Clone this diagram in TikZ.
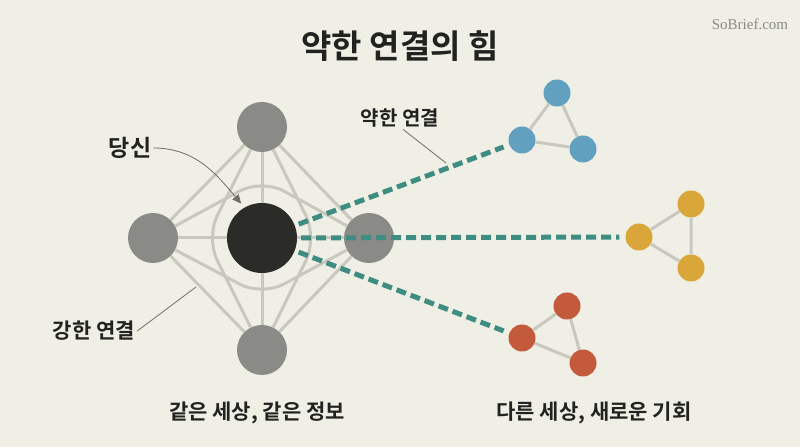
\documentclass[tikz,border=0pt]{standalone}
\usepackage{fontspec}
\setmainfont{Noto Sans CJK KR}[BoldFont={Noto Sans CJK KR Bold}]
\newfontfamily\webfont{Liberation Serif}
\usepackage{xcolor}
\usetikzlibrary{arrows.meta}
\definecolor{achtergrond}{HTML}{EFEFE5}
\definecolor{inkt}{HTML}{222220}
\definecolor{grijs}{HTML}{8A8A86}
\definecolor{zwart}{HTML}{2B2B28}
\definecolor{lijngrijs}{HTML}{C8C8BF}
\definecolor{groenblauw}{HTML}{3E8C82}
\definecolor{blauw}{HTML}{62A0C0}
\definecolor{geel}{HTML}{DAA63A}
\definecolor{rood}{HTML}{C45A3C}
\definecolor{wijsgrijs}{HTML}{6E6E6A}

\begin{document}
\begin{tikzpicture}[>=Stealth, x=1pt, y=1pt,
  knoop/.style={circle, inner sep=0pt, minimum size=50pt, fill=grijs},
  klein/.style={circle, inner sep=0pt, minimum size=27pt},
  sterk/.style={draw=lijngrijs, line width=3pt},
  boog/.style={sterk, rounded corners=25pt},
  zwak/.style={draw=groenblauw, line width=5pt, dash pattern=on 10pt off 5pt,
    shorten <=4pt, shorten >=6pt},
  wijzer/.style={draw=wijsgrijs, line width=0.8pt},
  tekst/.style={font=\bfseries\fontsize{20}{24}\selectfont, text=inkt, inner sep=2pt},
  groot/.style={tekst, font=\bfseries\fontsize{21}{25}\selectfont}]

  % achtergrond
  \fill[achtergrond] (0,0) rectangle (800,447);
  \useasboundingbox (0,0) rectangle (800,447);

  % netwerk rond jou
  \node[knoop, fill=zwart, minimum size=70pt] (jij) at (262,209) {};
  \node[knoop] (boven) at (262,320) {};
  \node[knoop] (links) at (153,209) {};
  \node[knoop] (rechts) at (369,209) {};
  \node[knoop] (onder) at (262,97) {};

  % sterke banden
  \draw[sterk] (boven) -- (links) -- (onder) -- (rechts) -- (boven);
  \draw[sterk] (jij) -- (boven) (jij) -- (links) (jij) -- (onder) (jij) -- (rechts);
  \draw[boog] (links) -- (262,268) -- (rechts);
  \draw[boog] (links) -- (262,151) -- (rechts);
  \draw[boog] (boven) -- (206,209) -- (onder);
  \draw[boog] (boven) -- (317,209) -- (onder);

  % andere groepen
  \node[klein, fill=blauw] (b1) at (557,354) {};
  \node[klein, fill=blauw] (b2) at (522,307) {};
  \node[klein, fill=blauw] (b3) at (583,298) {};
  \draw[sterk] (b1) -- (b2) -- (b3) -- (b1);

  \node[klein, fill=geel] (g1) at (639,210) {};
  \node[klein, fill=geel] (g2) at (691,243) {};
  \node[klein, fill=geel] (g3) at (691,179) {};
  \draw[sterk] (g1) -- (g2) -- (g3) -- (g1);

  \node[klein, fill=rood] (r1) at (567,141) {};
  \node[klein, fill=rood] (r2) at (522,109) {};
  \node[klein, fill=rood] (r3) at (583,84) {};
  \draw[sterk] (r1) -- (r2) -- (r3) -- (r1);

  % zwakke banden
  \draw[zwak] (jij) -- (b2);
  \draw[zwak] (jij) -- (g1);
  \draw[zwak] (jij) -- (r2);

  % teksten
  \node[tekst, font=\bfseries\fontsize{33}{39}\selectfont] (titel) at (400,401) {약한 연결의 힘};
  \node[text=wijsgrijs!80, font=\webfont\fontsize{15}{18}\selectfont] (site) at (750,423) {SoBrief.com};
  \node[tekst] (zwaklabel) at (400,329) {약한 연결};
  \node[tekst, font=\bfseries\fontsize{23}{27}\selectfont] (jijlabel) at (130,299) {당신};
  \node[groot] (sterklabel) at (94,116) {강한 연결};
  \node[groot] (zelfde) at (257,34) {같은 세상, 같은 정보};
  \node[groot] (anders) at (594,34) {다른 세상, 새로운 기회};

  % wijzers
  \coordinate (zwakpunt) at (446,284);
  \coordinate (sterkpunt) at (196,160);
  \draw[wijzer] (zwaklabel.-75) -- (zwakpunt);
  \draw[wijzer] (sterklabel.east) -- (sterkpunt);
  \draw[wijzer, -{Triangle[length=9pt,width=8pt]}, shorten >=5pt]
    (jijlabel.east) to[out=0, in=130] (jij.120);
\end{tikzpicture}
\end{document}
